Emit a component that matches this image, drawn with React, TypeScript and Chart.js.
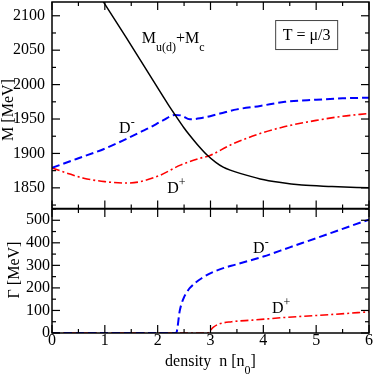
import React, { useEffect, useRef } from 'react';
import { Chart, registerables } from 'chart.js';

Chart.register(...registerables);

// ---------- data ----------
const densityQuark = [0.9, 1.0, 1.4, 1.8, 2.2, 2.33, 2.5, 2.61, 2.75, 2.93, 3.1, 3.24, 3.4, 3.56, 3.94, 4.3, 4.73, 5.3, 6.0];
const massQuark = [2129, 2117, 2069, 2020, 1971, 1956, 1937, 1926, 1913, 1898, 1887, 1880, 1875, 1871, 1863, 1858, 1854, 1852, 1850];

const densityDminus = [0, 0.5, 1.0, 1.35, 1.67, 1.86, 2.1, 2.33, 2.45, 2.61, 2.8, 3.18, 3.5, 3.94, 4.41, 5.0, 5.5, 6.0];
const massDminus = [1879, 1893, 1907, 1919, 1931, 1938, 1948, 1956, 1955, 1949.5, 1951, 1958, 1964, 1969, 1975, 1978, 1980, 1981];

const densityDplus = [0, 0.3, 0.6, 1.0, 1.42, 1.67, 2.05, 2.43, 2.8, 2.99, 3.37, 3.94, 4.41, 5.0, 5.5, 6.0];
const massDplus = [1879, 1871, 1864, 1859, 1857, 1859, 1868.5, 1883, 1893, 1897, 1912, 1929, 1939, 1948, 1954, 1958];

const densityWidthDminus = [0, 2.35, 2.42, 2.49, 2.55, 2.61, 2.84, 3.15, 3.5, 4.0, 4.5, 5.03, 5.5, 6.0];
const widthDminus = [0, 0, 101, 154, 180, 200, 244, 280, 305, 339, 380, 423, 462, 503];

const densityWidthDplus = [0, 2.94, 3.05, 3.15, 3.4, 3.79, 4.41, 5.36, 6.0];
const widthDplus = [0, 0, 25, 39, 50, 57, 69, 83, 94];

const massTicks = [1850, 1900, 1950, 2000, 2050, 2100];
const widthTicks = [0, 100, 200, 300, 400, 500];
const densityTicks = [0, 1, 2, 3, 4, 5, 6];

const FONT = "'Liberation Serif', 'Times New Roman', Times, serif";
const BLUE = '#0000ff';
const RED = '#ff0000';

const pts = (xs: number[], ys: number[]) => xs.map((x, i) => ({ x, y: ys[i] }));

type Seg = { t: string; sub?: boolean; sup?: boolean };

function drawRich(ctx: CanvasRenderingContext2D, x: number, y: number, segs: Seg[], size = 16) {
  let cx = x;
  ctx.textAlign = 'left';
  ctx.textBaseline = 'alphabetic';
  ctx.fillStyle = '#000';
  for (const s of segs) {
    const small = s.sub || s.sup;
    ctx.font = `${small ? Math.round(size * 0.72) : size}px ${FONT}`;
    const dy = s.sub ? size * 0.5 : s.sup ? -size * 0.45 : 0;
    ctx.fillText(s.t, cx, y + dy);
    cx += ctx.measureText(s.t).width;
  }
}

function richWidth(ctx: CanvasRenderingContext2D, segs: Seg[], size = 16) {
  let w = 0;
  for (const s of segs) {
    const small = s.sub || s.sup;
    ctx.font = `${small ? Math.round(size * 0.72) : size}px ${FONT}`;
    w += ctx.measureText(s.t).width;
  }
  return w;
}

function framePlugin(name: string, yMajor: number, yMinor: number, extra: (ctx: CanvasRenderingContext2D, chart: any) => void) {
  return {
    id: 'frame_' + name,
    afterDatasetsDraw(chart: any) {
      const { ctx, chartArea: a, scales } = chart;
      const xs = scales.x;
      const ys = scales.y;
      ctx.save();
      ctx.strokeStyle = '#000';
      ctx.lineWidth = 1.5;
      ctx.strokeRect(a.left, a.top, a.right - a.left, a.bottom - a.top);
      ctx.lineWidth = 1.2;
      const seg = (x1: number, y1: number, x2: number, y2: number) => {
        ctx.beginPath();
        ctx.moveTo(x1, y1);
        ctx.lineTo(x2, y2);
        ctx.stroke();
      };
      for (let i = 0; i <= 12; i++) {
        const v = i * 0.5;
        const L = i % 2 === 0 ? 8 : 4;
        const px = xs.getPixelForValue(v);
        seg(px, a.top, px, a.top + L);
        seg(px, a.bottom, px, a.bottom - L);
      }
      const start = Math.ceil(ys.min / yMinor) * yMinor;
      for (let v = start; v <= ys.max + 1e-9; v += yMinor) {
        const major = Math.abs(v / yMajor - Math.round(v / yMajor)) < 1e-6;
        const L = major ? 8 : 4;
        const py = ys.getPixelForValue(v);
        seg(a.left, py, a.left + L, py);
        seg(a.right, py, a.right - L, py);
      }
      extra(ctx, chart);
      ctx.restore();
    },
  };
}

function rotatedTitle(ctx: CanvasRenderingContext2D, text: string, x: number, y: number) {
  ctx.save();
  ctx.translate(x, y);
  ctx.rotate(-Math.PI / 2);
  ctx.font = `16px ${FONT}`;
  ctx.fillStyle = '#000';
  ctx.textAlign = 'center';
  ctx.textBaseline = 'middle';
  ctx.fillText(text, 0, 0);
  ctx.restore();
}

const lineDs = (label: string, data: any[], color: string, width: number, dash: number[]) => ({
  label,
  data,
  borderColor: color,
  backgroundColor: color,
  borderWidth: width,
  borderDash: dash,
  pointRadius: 0,
  fill: false,
  cubicInterpolationMode: 'monotone' as const,
});

function yScale(min: number, max: number, ticks: number[], pad: number) {
  return {
    type: 'linear' as const,
    min,
    max,
    afterBuildTicks: (s: any) => {
      s.ticks = ticks.map((v) => ({ value: v }));
    },
    afterFit: (s: any) => {
      s.width = 52;
      s.paddingTop = 0;
      s.paddingBottom = 0;
    },
    grid: { display: false, drawTicks: false },
    border: { display: false },
    ticks: {
      font: { family: FONT, size: 16 },
      color: '#000',
      padding: pad,
      callback: (v: any) => String(v),
    },
  };
}

function TopChart() {
  const ref = useRef<HTMLCanvasElement>(null);
  useEffect(() => {
    const chart = new Chart(ref.current!, {
      type: 'line',
      data: {
        datasets: [
          lineDs('Mq', pts(densityQuark, massQuark), '#000', 1.5, []),
          lineDs('D-', pts(densityDminus, massDminus), BLUE, 2, [8, 4]),
          lineDs('D+', pts(densityDplus, massDplus), RED, 1.6, [8, 3, 2, 3]),
        ],
      },
      options: {
        animation: false,
        responsive: true,
        maintainAspectRatio: false,
        layout: { padding: { top: 2, right: 5, bottom: 0.5, left: 0 } },
        plugins: { legend: { display: false }, tooltip: { enabled: false } },
        scales: {
          x: { type: 'linear', min: 0, max: 6, display: false },
          y: yScale(1820, 2120, massTicks, 7),
        },
      },
      plugins: [
        framePlugin('top', 50, 25, (ctx, ch) => {
          const xs = ch.scales.x;
          const ys = ch.scales.y;
          drawRich(ctx, xs.getPixelForValue(1.7), ys.getPixelForValue(2060), [
            { t: 'M' }, { t: 'u(d)', sub: true }, { t: '+M' }, { t: 'c', sub: true },
          ]);
          drawRich(ctx, xs.getPixelForValue(1.27), ys.getPixelForValue(1929.5), [{ t: 'D' }, { t: '-', sup: true }]);
          drawRich(ctx, xs.getPixelForValue(2.18), ys.getPixelForValue(1842), [{ t: 'D' }, { t: '+', sup: true }]);
          // box T = mu/3
          const bx = xs.getPixelForValue(4.82);
          const by = ys.getPixelForValue(2072);
          ctx.lineWidth = 1;
          ctx.strokeStyle = '#444';
          ctx.strokeRect(bx - 31, by - 14.5, 62, 29);
          ctx.font = `16px ${FONT}`;
          ctx.fillStyle = '#000';
          ctx.textAlign = 'center';
          ctx.textBaseline = 'middle';
          ctx.fillText('T = μ/3', bx, by + 1);
          rotatedTitle(ctx, 'M [MeV]', 9, 110);
        }),
      ],
    });
    return () => chart.destroy();
  }, []);
  return <canvas ref={ref} />;
}

function BottomChart() {
  const ref = useRef<HTMLCanvasElement>(null);
  useEffect(() => {
    const chart = new Chart(ref.current!, {
      type: 'line',
      data: {
        datasets: [
          lineDs('D-', pts(densityWidthDminus, widthDminus), BLUE, 2, [8, 4]),
          lineDs('D+', pts(densityWidthDplus, widthDplus), RED, 1.6, [8, 3, 2, 3]),
        ],
      },
      options: {
        animation: false,
        responsive: true,
        maintainAspectRatio: false,
        layout: { padding: { top: 0, right: 5, bottom: 0, left: 0 } },
        plugins: { legend: { display: false }, tooltip: { enabled: false } },
        scales: {
          x: {
            type: 'linear',
            min: 0,
            max: 6,
            afterBuildTicks: (s: any) => {
              s.ticks = densityTicks.map((v) => ({ value: v }));
            },
            afterFit: (s: any) => {
              s.height = 41;
              s.paddingLeft = 0;
              s.paddingRight = 0;
            },
            grid: { display: false, drawTicks: false },
            border: { display: false },
            ticks: {
              font: { family: FONT, size: 16 },
              color: '#000',
              padding: -2,
              maxRotation: 0,
              callback: (v: any) => String(v),
            },
          },
          y: yScale(0, 550, widthTicks, 2),
        },
      },
      plugins: [
        framePlugin('bottom', 100, 50, (ctx, ch) => {
          const xs = ch.scales.x;
          const ys = ch.scales.y;
          drawRich(ctx, xs.getPixelForValue(3.806), ys.getPixelForValue(356), [{ t: 'D' }, { t: '-', sup: true }]);
          drawRich(ctx, xs.getPixelForValue(4.165), ys.getPixelForValue(89), [{ t: 'D' }, { t: '+', sup: true }]);
          rotatedTitle(ctx, 'Γ [MeV]', 15, 61);
          const segs: Seg[] = [{ t: 'density  n [n' }, { t: '0', sub: true }, { t: ']' }];
          const w = richWidth(ctx, segs);
          const a = ch.chartArea;
          drawRich(ctx, (a.left + a.right) / 2 - w / 2, 157, segs);
        }),
      ],
    });
    return () => chart.destroy();
  }, []);
  return <canvas ref={ref} />;
}

export default function App() {
  return (
    <div style={{ position: 'absolute', left: 0, top: 0, width: 374, height: 374, background: '#fff' }}>
      <div style={{ position: 'absolute', left: 0, top: 0, width: 374, height: 209 }}>
        <TopChart />
      </div>
      <div style={{ position: 'absolute', left: 0, top: 209, width: 374, height: 165 }}>
        <BottomChart />
      </div>
    </div>
  );
}
